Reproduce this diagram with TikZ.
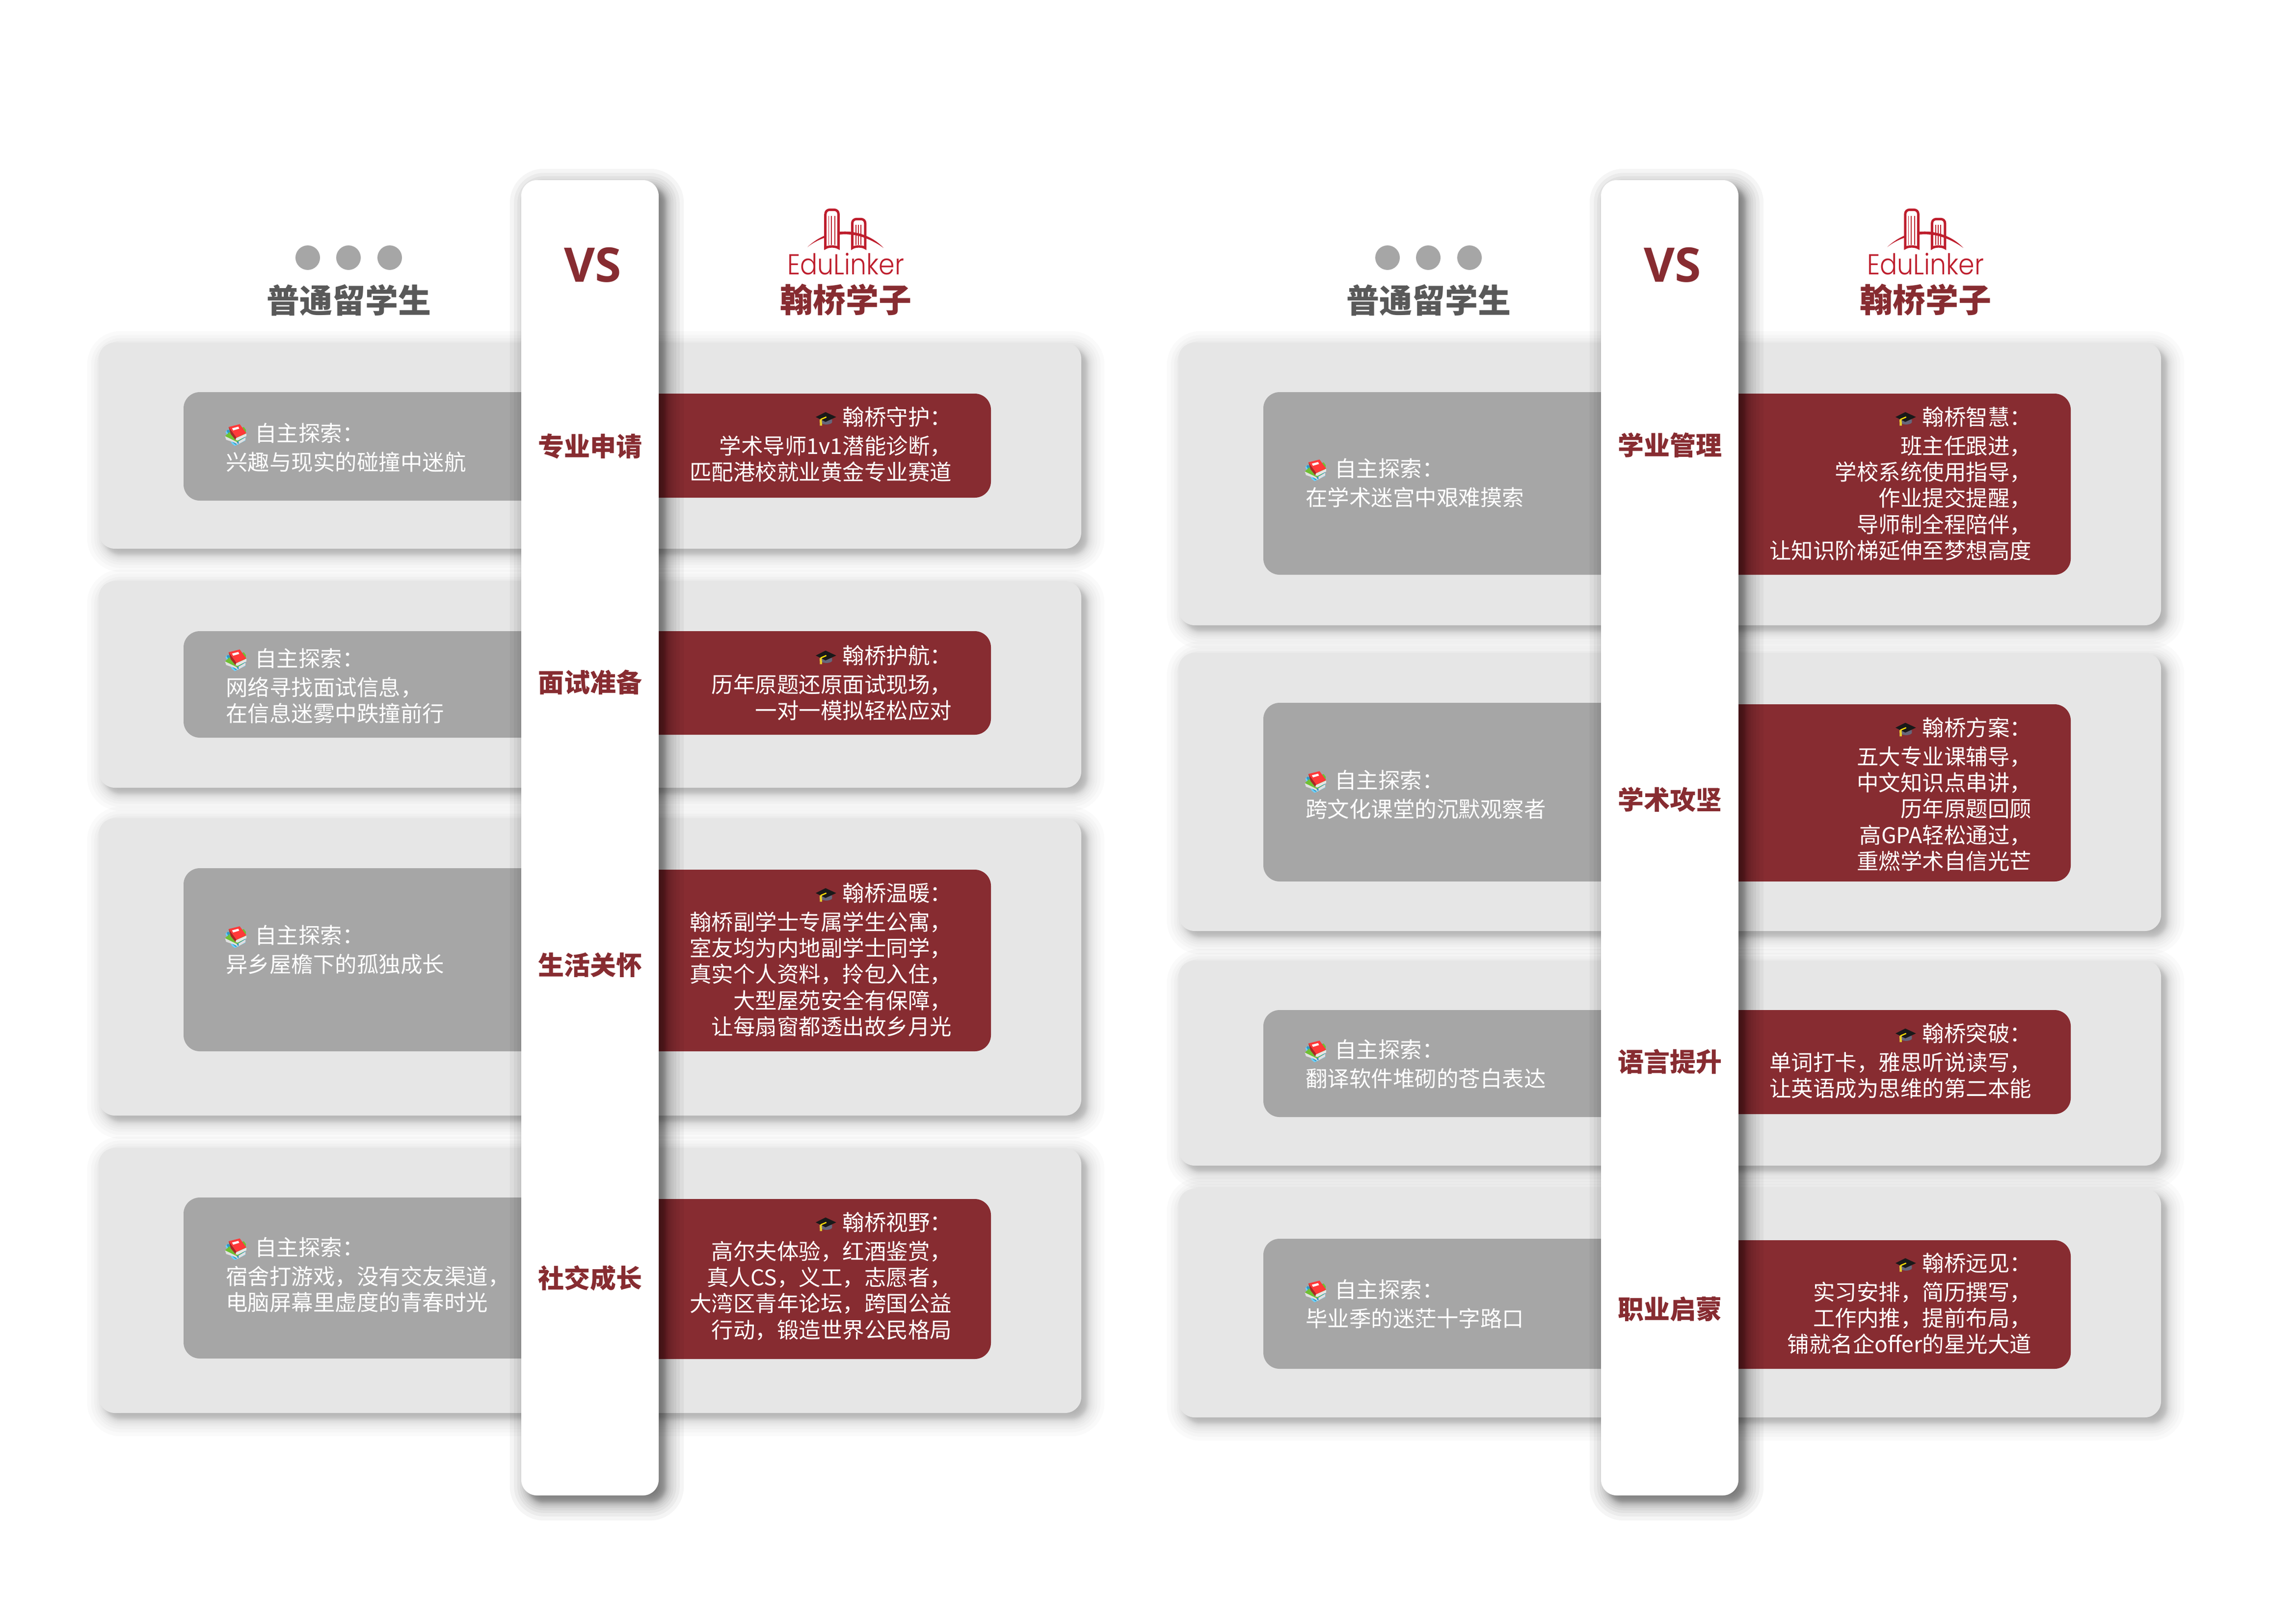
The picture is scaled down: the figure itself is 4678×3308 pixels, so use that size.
\documentclass[tikz,border=0pt]{standalone}
\usepackage{fontspec}
\setmainfont{Noto Sans CJK SC}
\newfontfamily\heavyfont{Noto Sans CJK SC Black}
\newfontfamily\vsfont{Open Sans}
\newfontfamily\logofont{Poppins Light}
\definecolor{cardgrey}{HTML}{E6E6E6}
\definecolor{boxgrey}{HTML}{A6A6A6}
\definecolor{wine}{HTML}{872C31}
\definecolor{headgrey}{HTML}{595959}
\definecolor{logored}{HTML}{BE1E2D}
\tikzset{
  cardbox/.style={fill=cardgrey,rounded corners=6.6pt},
  greybox/.style={fill=boxgrey,rounded corners=6.6pt},
  winebox/.style={fill=wine,rounded corners=6.6pt},
  stripbox/.style={fill=white,rounded corners=6.4pt},
  bodytxt/.style={text=white,inner sep=0pt,font=\fontsize{8.9}{10.66}\selectfont},
  sidetxt/.style={text=wine,inner sep=0pt,font=\heavyfont\fontsize{10.6}{12}\selectfont},
  headtxt/.style={inner sep=0pt,font=\heavyfont\fontsize{13.4}{16}\selectfont},
  vstxt/.style={text=wine,inner sep=0pt,font=\vsfont\bfseries\fontsize{19.4}{23}\selectfont},
  logotxt/.style={text=logored,inner sep=0pt,font=\logofont\fontsize{12}{14}\selectfont},
  dotmark/.style={fill=boxgrey},
  logoline/.style={draw=logored,line width=0.33pt},
  logotower/.style={draw=logored,line width=1pt},
}
% soft shadow: x1 y1 x2 y2 radius blur offset alpha
\newcommand\softshade[8]{%
  \foreach \i in {1,...,20}{%
    \pgfmathsetmacro\uu{1-2*(\i-0.5)/20}%
    \pgfmathsetmacro\ee{#6*(0.3*\uu+0.7*\uu*\uu*\uu)}%
    \pgfmathsetmacro\rr{max(1,0.2*(#5+\ee))}%
    \fill[black,opacity=#8,rounded corners=\rr pt]
      ({#1+#7-\ee},{#2+#7-\ee}) rectangle ({#3+#7+\ee},{#4+#7+\ee});
  }%
}
\newcommand\cardshade[4]{\softshade{#1}{#2}{#3}{#4}{33}{40}{12}{0.019}}
\newcommand\bookicon[2]{%
  \begin{scope}[shift={({#1-36.7},{#2-30})},x=0.0667pt,y=-0.0667pt]
    \fill[fill=white!70!blue!60!cyan] (38,72)--(50,58)--(160,100)--(160,125)--(95,157)--(78,145)--cycle;
    \fill[fill=blue!30!cyan!70!black!80!white] (45,66)--(52,58)--(160,104)--(160,122)--(100,150)--(82,135)--cycle;
    \fill[fill=green!55!black!70!yellow!80] (35,98)--(60,75)--(150,42)--(163,60)--(160,100)--(105,135)--cycle;
    \fill[fill=black!12] (35,98)--(105,132)--(116,150)--(90,136)--(42,120)--cycle;
    \fill[fill=black!12] (118,130)--(160,105)--(160,122)--(120,145)--cycle;
    \fill[fill=red!70!pink] (57,42)--(125,25)--(165,80)--(105,108)--cycle;
    \fill[fill=red!60!black!85!white] (57,42)--(70,85)--(100,122)--(105,108)--cycle;
    \fill[fill=black!10] (102,110)--(165,82)--(165,98)--(112,125)--(100,122)--cycle;
    \fill[white] (78,50)--(116,40)--(122,52)--(85,63)--cycle;
  \end{scope}%
}
\newcommand\capicon[2]{%
  \begin{scope}[shift={({#1-42.7},{#2-31.7})},x=0.0667pt,y=-0.0667pt]
    \fill[fill=black!60!blue!20!gray] (95,100)--(95,118) .. controls (105,135) and (155,135) .. (165,118)--(165,100)--cycle;
    \fill[fill=black!80!gray] (65,85)--(125,55)--(190,85)--(125,115)--cycle;
    \draw[yellow!80!orange,line width=0.5pt] (95,100)--(130,85);
    \draw[yellow!60!brown,line width=0.9pt] (96,100)--(97,138);
  \end{scope}%
}
\newcommand\logomark[1]{%
  \begin{scope}[shift={({1550+#1},400)},x=0.0667pt,y=-0.0667pt]
    \fill[logored] (285,310) .. controls (360,240) and (440,215) .. (515,215)
      .. controls (600,215) and (690,250) .. (750,315)
      .. controls (680,265) and (600,232) .. (515,232)
      .. controls (430,232) and (350,260) .. (285,310) -- cycle;
    \draw[logotower,fill=white] (395,316) -- (395,110) .. controls (395,92) and (407,82) .. (422,82)
      -- (448,82) .. controls (463,82) and (475,92) .. (475,110) -- (475,316)
      .. controls (455,303) and (415,303) .. (395,316) -- cycle;
    \draw[logotower] (559,316) -- (559,165) .. controls (559,149) and (570,139) .. (585,139)
      -- (612,139) .. controls (627,139) and (638,149) .. (638,165) -- (638,316)
      .. controls (620,303) and (577,303) .. (559,316) -- cycle;
    \foreach \lx in {415,432,452}{\draw[logoline] (\lx,120)--(\lx,298);}
    \foreach \lx in {582,597,612}{\draw[logoline] (\lx,175)--(\lx,298);}
  \end{scope}%
}
% first line centre y1, n lines
\newcommand\greytxt[5]{\node[bodytxt,anchor=west,align=left] (#1) at ({#2-3},{#3+(#4-1)*26.65+5.5}) {\strut\hspace{11.8pt}#5\strut};\bookicon{#2+21.5}{#3}}
\newcommand\winetxt[5]{\node[bodytxt,anchor=east,align=right] (#1) at ({#2},{#3+(#4-1)*26.65+5.5}) {\strut #5\strut};\capicon{#2-257}{#3}}
% header + strip elements, one panel
\newcommand\panelstrip[1]{%
  \softshade{1062+#1}{367}{1342+#1}{3047}{32}{42}{14}{0.04}%
  \fill[stripbox] ({1062+#1},367) rectangle ({1342+#1},3047);
}
\newcommand\panelhead[2]{%
  \foreach \cx/\dn in {627/a,710/b,794/c}{\fill[dotmark] ({\cx+#1},525) circle (25);}
  \node[headtxt,text=headgrey] (head#2a) at ({711+#1},612) {普通留学生};
  \node[headtxt,text=wine] (head#2b) at ({1723+#1},611) {翰桥学子};
  \node[vstxt] (vs#2) at ({1208+#1},540) {VS};
  \logomark{#1}
  \node[logotxt] (logo#2) at ({1723+#1},538) {\resizebox{47.6pt}{8.8pt}{EduLinker}};
}
\begin{document}
\begin{tikzpicture}[x=0.2pt,y=-0.2pt]
\useasboundingbox (0,0) rectangle (4678,3308);
\fill[white] (0,0) rectangle (4678,3308);
% cards
\foreach \ya/\yb in {698/1118,1184/1605,1667/2273,2339/2879}{
  \cardshade{201}{\ya}{2203}{\yb}
  \fill[cardbox] (201,\ya) rectangle (2203,\yb);
}
\foreach \ya/\yb in {698/1274,1330/1897,1957/2375,2422/2888}{
  \cardshade{2401}{\ya}{4403}{\yb}
  \fill[cardbox] (2401,\ya) rectangle (4403,\yb);
}
% grey boxes
\foreach \ya/\yb in {799/1020,1286/1503,1769/2142,2440/2768}{
  \fill[greybox] (374,\ya) rectangle (1200,\yb);
}
\foreach \ya/\yb in {799/1171,1432/1796,2058/2276,2524/2789}{
  \fill[greybox] (2574,\ya) rectangle (3400,\yb);
}
% wine boxes
\foreach \ya/\yb in {802/1014,1286/1497,1772/2142,2443/2769}{
  \fill[winebox] (1200,\ya) rectangle (2019,\yb);
}
\foreach \ya/\yb in {802/1171,1435/1796,2058/2270,2527/2789}{
  \fill[winebox] (3400,\ya) rectangle (4219,\yb);
}
\panelstrip{0}
\panelstrip{2200}
\panelhead{0}{L}
\panelhead{2200}{R}
% side labels
\node[sidetxt] (sideA) at (1202,909) {专业申请};
\node[sidetxt] (sideB) at (1202,1390) {面试准备};
\node[sidetxt] (sideC) at (1202,1966) {生活关怀};
\node[sidetxt] (sideD) at (1202,2604) {社交成长};
\node[sidetxt] (sideE) at (3402,907) {学业管理};
\node[sidetxt] (sideF) at (3402,1629) {学术攻坚};
\node[sidetxt] (sideG) at (3402,2163) {语言提升};
\node[sidetxt] (sideH) at (3402,2667) {职业启蒙};
% grey texts
\greytxt{ga}{462}{886}{2}{自主探索：\\兴趣与现实的碰撞中迷航}
\greytxt{gb}{462}{1345}{3}{自主探索：\\网络寻找面试信息，\\在信息迷雾中跌撞前行}
\greytxt{gc}{462}{1909}{2}{自主探索：\\异乡屋檐下的孤独成长}
\greytxt{gd}{462}{2545}{3}{自主探索：\\宿舍打游戏，没有交友渠道，\\电脑屏幕里虚度的青春时光}
\greytxt{ge}{2662}{958}{2}{自主探索：\\在学术迷宫中艰难摸索}
\greytxt{gf}{2662}{1593}{2}{自主探索：\\跨文化课堂的沉默观察者}
\greytxt{gg}{2662}{2142}{2}{自主探索：\\翻译软件堆砌的苍白表达}
\greytxt{gh}{2662}{2631}{2}{自主探索：\\毕业季的迷茫十字路口}
% wine texts
\winetxt{wa}{1940}{853}{3}{翰桥守护：\\学术导师1v1潜能诊断，\\匹配港校就业黄金专业赛道}
\winetxt{wb}{1940}{1339}{3}{翰桥护航：\\历年原题还原面试现场，\\一对一模拟轻松应对}
\winetxt{wc}{1940}{1823}{6}{翰桥温暖：\\翰桥副学士专属学生公寓，\\室友均为内地副学士同学，\\真实个人资料，拎包入住，\\大型屋苑安全有保障，\\让每扇窗都透出故乡月光}
\winetxt{wd}{1940}{2494}{5}{翰桥视野：\\高尔夫体验，红酒鉴赏，\\真人CS，义工，志愿者，\\大湾区青年论坛，跨国公益\\行动，锻造世界公民格局}
\winetxt{we}{4140}{853}{6}{翰桥智慧：\\班主任跟进，\\学校系统使用指导，\\作业提交提醒，\\导师制全程陪伴，\\让知识阶梯延伸至梦想高度}
\winetxt{wf}{4140}{1486}{6}{翰桥方案：\\五大专业课辅导，\\中文知识点串讲，\\历年原题回顾\\高GPA轻松通过，\\重燃学术自信光芒}
\winetxt{wg}{4140}{2109}{3}{翰桥突破：\\单词打卡，雅思听说读写，\\让英语成为思维的第二本能}
\winetxt{wh}{4140}{2577}{4}{翰桥远见：\\实习安排，简历撰写，\\工作内推，提前布局，\\铺就名企offer的星光大道}
\end{tikzpicture}
\end{document}
